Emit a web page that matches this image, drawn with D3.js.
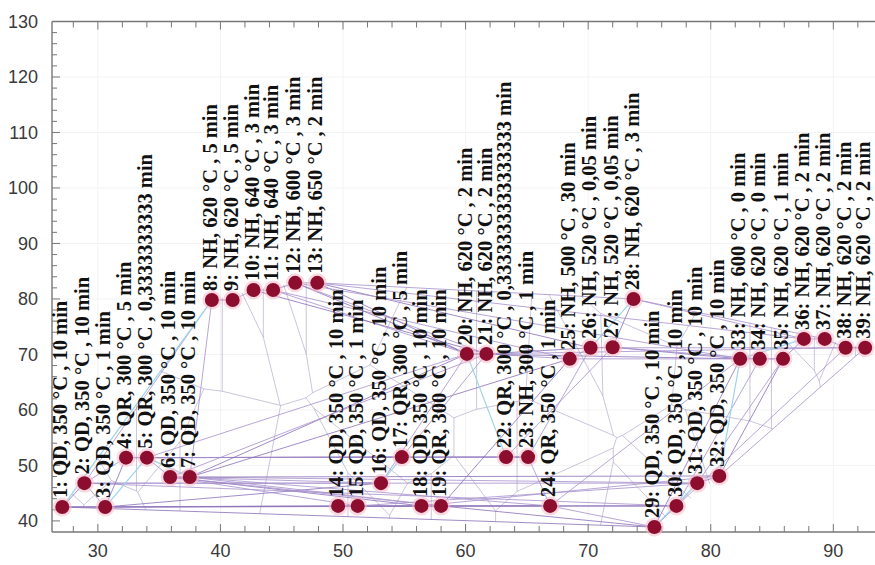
<!DOCTYPE html>
<html>
<head>
<meta charset="utf-8">
<script src="https://cdn.jsdelivr.net/npm/d3@7"></script>
<style>
  html, body { margin: 0; padding: 0; background: #fff; }
  svg { display: block; }
  .tick-label { font-family: "Liberation Sans", Arial, sans-serif; font-size: 18px; fill: #3a3a3a; }
  .point-label { font-family: "Liberation Serif", "Times New Roman", serif; font-weight: bold; font-size: 20.5px; fill: #111; }
</style>
</head>
<body>
<div id="chart"></div>
<script>
// point values (x, y)
const ids = d3.range(1, 40);
const xValues = [27.1, 28.9, 30.6, 32.3, 34.0, 35.9, 37.5, 39.3, 41.0, 42.7, 44.3, 46.1, 47.9,
  49.6, 51.2, 53.1, 54.8, 56.4, 58.0, 60.1, 61.7, 63.3, 65.1, 66.9, 68.5, 70.2, 72.0, 73.7,
  75.4, 77.2, 78.9, 80.7, 82.4, 84.0, 85.9, 87.6, 89.3, 91.0, 92.6];
const yValues = [42.5, 46.8, 42.5, 51.4, 51.4, 47.9, 47.9, 79.8, 79.8, 81.6, 81.6, 82.9, 82.9,
  42.7, 42.7, 46.8, 51.5, 42.7, 42.7, 70.1, 70.1, 51.5, 51.5, 42.7, 69.2, 71.2, 71.3, 80.0,
  38.9, 42.7, 46.8, 48.1, 69.2, 69.2, 69.2, 72.8, 72.8, 71.2, 71.2];
const labels = [
  "QD, 350 °C , 10 min", "QD, 350 °C , 10 min", "QD, 350 °C , 1 min", "QR, 300 °C , 5 min",
  "QR, 300 °C , 0,3333333333 min", "QD, 350 °C , 10 min", "QD, 350 °C , 10 min",
  "NH, 620 °C , 5 min", "NH, 620 °C , 5 min", "NH, 640 °C , 3 min", "NH, 640 °C , 3 min",
  "NH, 600 °C , 3 min", "NH, 650 °C , 2 min", "QD, 350 °C , 10 min", "QD, 350 °C , 1 min",
  "QD, 350 °C , 10 min", "QR, 300 °C , 5 min", "QD, 350 °C , 10 min", "QR, 300 °C , 10 min",
  "NH, 620 °C , 2 min", "NH, 620 °C , 2 min", "QR, 300 °C , 0,3333333333333333 min",
  "NH, 300 °C , 1 min", "QR, 350 °C , 1 min", "NH, 500 °C , 30 min", "NH, 520 °C , 0,05 min",
  "NH, 520 °C , 0,05 min", "NH, 620 °C , 3 min", "QD, 350 °C , 10 min", "QD, 350 °C , 10 min",
  "QD, 350 °C , 10 min", "QD, 350 °C , 10 min", "NH, 600 °C , 0 min", "NH, 620 °C , 0 min",
  "NH, 620 °C , 1 min", "NH, 620 °C , 2 min", "NH, 620 °C , 2 min", "NH, 620 °C , 2 min",
  "NH, 620 °C , 2 min"
];

// connections between points (by id)
const links = [
  [1, 3], [3, 14], [1, 14], [14, 15], [15, 18], [18, 19], [19, 24], [24, 29], [29, 30],
  [1, 29], [3, 24], [3, 30], [1, 19], [2, 16], [2, 31], [3, 16], [6, 16], [7, 31], [7, 32],
  [7, 24], [7, 19], [6, 18], [6, 15], [2, 30], [4, 17], [5, 17], [5, 22], [5, 23], [17, 22],
  [4, 23], [7, 20], [6, 21], [5, 20], [7, 25], [16, 20], [17, 21], [19, 25], [23, 26],
  [24, 33], [29, 33], [30, 34], [31, 35], [32, 35], [32, 39], [29, 38], [8, 9], [9, 10],
  [10, 11], [11, 12], [12, 13], [13, 28], [13, 20], [12, 21], [11, 25], [13, 26], [28, 36],
  [28, 37], [27, 28], [25, 26], [26, 27], [27, 33], [33, 34], [34, 35], [35, 36], [36, 37],
  [37, 38], [38, 39], [20, 21], [21, 25], [21, 26], [13, 36], [12, 33], [20, 33], [21, 38],
  [26, 39], [1, 2], [2, 3], [2, 4], [3, 4], [4, 5], [5, 6], [6, 7], [2, 8], [7, 8],
  [22, 23], [23, 24], [22, 27], [14, 30], [15, 31], [18, 32], [19, 29],
  [24, 30], [30, 31], [31, 32], [25, 35], [27, 34], [12, 20], [6, 19], [11, 20], [10, 21]
];
const neighbourLinks = [[1, 8], [3, 5], [5, 7], [20, 22], [26, 28], [32, 33], [29, 31], [16, 17], [33, 36]];

const xTicks = d3.range(30, 91, 10);
const yTicks = d3.range(40, 131, 10);

const width = 875;
const height = 565;
const plotLeft = 52;
const plotBottom = 532;
const plotTop = 21.5;

const x = d3.scaleLinear().domain([26.26, 93.4]).range([plotLeft, width]);
const y = d3.scaleLinear().domain([38, 130]).range([plotBottom, plotTop]);

const points = ids.map((id, i) => ({ id, x: xValues[i], y: yValues[i], label: `${id}: ${labels[i]}` }));
const byId = new Map(points.map((p) => [p.id, p]));

const svg = d3.select("#chart").append("svg")
  .attr("width", width)
  .attr("height", height);

// faint grid
const grid = svg.append("g").attr("stroke", "#f3f3f3").attr("stroke-width", 1);
grid.selectAll(".gx").data(xTicks).join("line")
  .attr("x1", (d) => x(d)).attr("x2", (d) => x(d)).attr("y1", plotTop).attr("y2", plotBottom);
grid.selectAll(".gy").data(yTicks.filter((d) => d > 40)).join("line")
  .attr("x1", plotLeft).attr("x2", width).attr("y1", (d) => y(d)).attr("y2", (d) => y(d));

// voronoi edges clipped to the hull, for the inner mesh
const delaunay = d3.Delaunay.from(points, (p) => x(p.x), (p) => y(p.y));
const voronoi = delaunay.voronoi([plotLeft, plotTop, width, plotBottom]);
svg.append("clipPath").attr("id", "hull")
  .append("path").attr("d", delaunay.renderHull());
svg.append("path")
  .attr("clip-path", "url(#hull)")
  .attr("d", voronoi.render())
  .attr("fill", "none")
  .attr("stroke", "#a79cc2")
  .attr("stroke-width", 0.9)
  .attr("opacity", 0.65);

const linkLayer = svg.append("g").attr("fill", "none");
linkLayer.selectAll("line.link").data(links).join("line")
  .attr("class", "link")
  .attr("x1", (d) => x(byId.get(d[0]).x)).attr("y1", (d) => y(byId.get(d[0]).y))
  .attr("x2", (d) => x(byId.get(d[1]).x)).attr("y2", (d) => y(byId.get(d[1]).y))
  .attr("stroke", (d, i) => (i % 3 === 0 ? "#8a6fb8" : "#a690cc"))
  .attr("stroke-width", 1)
  .attr("opacity", 0.8);
linkLayer.selectAll("line.near").data(neighbourLinks).join("line")
  .attr("class", "near")
  .attr("x1", (d) => x(byId.get(d[0]).x)).attr("y1", (d) => y(byId.get(d[0]).y))
  .attr("x2", (d) => x(byId.get(d[1]).x)).attr("y2", (d) => y(byId.get(d[1]).y))
  .attr("stroke", "#9fd4ea")
  .attr("stroke-width", 1.2);

// axes frame
const axisColor = "#777";
svg.append("line").attr("x1", plotLeft).attr("x2", width).attr("y1", plotBottom).attr("y2", plotBottom)
  .attr("stroke", axisColor).attr("stroke-width", 1.4);
svg.append("line").attr("x1", plotLeft).attr("x2", width).attr("y1", plotTop).attr("y2", plotTop)
  .attr("stroke", axisColor).attr("stroke-width", 1.4);
svg.append("line").attr("x1", plotLeft).attr("x2", plotLeft).attr("y1", plotTop).attr("y2", plotBottom)
  .attr("stroke", axisColor).attr("stroke-width", 1.4);

const xMinor = d3.range(28, 94, 2);
const yMinor = d3.range(40, 131, 2);
const tickLayer = svg.append("g").attr("stroke", axisColor).attr("stroke-width", 1);
tickLayer.selectAll(".xb").data(xMinor).join("line")
  .attr("x1", (d) => x(d)).attr("x2", (d) => x(d))
  .attr("y1", plotBottom).attr("y2", (d) => plotBottom - (d % 10 === 0 ? 8 : 6));
tickLayer.selectAll(".xt").data(xMinor).join("line")
  .attr("x1", (d) => x(d)).attr("x2", (d) => x(d))
  .attr("y1", plotTop).attr("y2", (d) => plotTop + (d % 10 === 0 ? 8 : 6));
tickLayer.selectAll(".yl").data(yMinor).join("line")
  .attr("y1", (d) => y(d)).attr("y2", (d) => y(d))
  .attr("x1", plotLeft).attr("x2", (d) => plotLeft + (d % 10 === 0 ? 8 : 5));

svg.append("g").selectAll("text").data(xTicks).join("text")
  .attr("class", "tick-label")
  .attr("x", (d) => x(d))
  .attr("y", 557)
  .attr("text-anchor", "middle")
  .text((d) => d);
svg.append("g").selectAll("text").data(yTicks).join("text")
  .attr("class", "tick-label")
  .attr("x", 38)
  .attr("y", (d) => y(d))
  .attr("dy", "0.36em")
  .attr("text-anchor", "end")
  .text((d) => d);

// points
const pointLayer = svg.append("g");
pointLayer.selectAll("circle.halo").data(points).join("circle")
  .attr("class", "halo")
  .attr("cx", (d) => x(d.x)).attr("cy", (d) => y(d.y))
  .attr("r", 9.5)
  .attr("fill", "#f7b9cb")
  .attr("opacity", 0.55);
pointLayer.selectAll("circle.dot").data(points).join("circle")
  .attr("class", "dot")
  .attr("cx", (d) => x(d.x)).attr("cy", (d) => y(d.y))
  .attr("r", 7)
  .attr("fill", "#8c0d2e");

// rotated labels
svg.append("g").selectAll("text").data(points).join("text")
  .attr("class", "point-label")
  .attr("transform", (d) => `translate(${x(d.x)},${y(d.y) - 9}) rotate(-90)`)
  .attr("dy", "0.25em")
  .text((d) => d.label);
</script>
</body>
</html>
